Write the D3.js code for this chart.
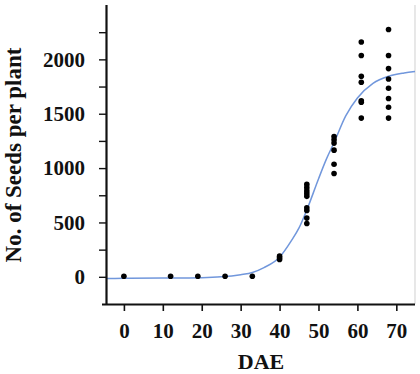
<!DOCTYPE html>
<html><head><meta charset="utf-8">
<script src="https://cdn.jsdelivr.net/npm/d3@7"></script>
<style>body{margin:0;background:#fff;} svg text{font-family:"Liberation Serif","Times New Roman",Times,serif !important;font-weight:bold;fill:#111;}</style>
</head><body><svg id="c" width="420" height="374"></svg>
<script>
const dae = [0, 12, 19, 26, 33, 40, 47, 54, 61, 68];
const seeds = [
  [5],
  [5],
  [5],
  [5],
  [5],
  [160, 175, 190],
  [850, 820, 790, 765, 740, 635, 610, 540, 490],
  [1290, 1260, 1230, 1165, 1035, 950],
  [2160, 2035, 1845, 1790, 1620, 1605, 1460],
  [2275, 2035, 1915, 1820, 1735, 1640, 1560, 1460]
];
const fitX = [-4.6, 0, 10, 20, 25, 30, 33, 36, 40, 43, 45, 47, 50, 52, 54, 57, 60, 64, 68, 72, 74.8];
const fitY = [-15, -14, -12, -8, 0, 20, 40, 85, 180, 330, 450, 615, 900, 1080, 1235, 1480, 1645, 1780, 1845, 1875, 1888];
const xTicks = [0, 10, 20, 30, 40, 50, 60, 70];
const yTicks = [0, 250, 500, 750, 1000, 1250, 1500, 1750, 2000, 2250];
const yLabels = [0, 500, 1000, 1500, 2000];

const FONT = '"Liberation Serif", "Times New Roman", Times, serif';
const svg = d3.select("#c");
const L = 106, R = 415, T = 5, B = 304;
const x = d3.scaleLinear().domain([-4.6, 74.8]).range([L, R]);
const y = d3.scaleLinear().domain([-250, 2500]).range([B, T]);

// right faint border
svg.append("line").attr("x1", R).attr("x2", R).attr("y1", T).attr("y2", B)
  .attr("stroke", "#d8d8d8").attr("stroke-width", 1.2);

// fitted curve
const line = d3.line().x(d => x(d[0])).y(d => y(d[1])).curve(d3.curveMonotoneX);
svg.append("path").datum(fitX.map((v, i) => [v, fitY[i]]))
  .attr("d", line).attr("fill", "none").attr("stroke", "#7197dc").attr("stroke-width", 1.5);

// points
const pts = [];
dae.forEach((d, i) => seeds[i].forEach(s => pts.push([d, s])));
svg.append("g").selectAll("circle").data(pts).join("circle")
  .attr("cx", d => x(d[0])).attr("cy", d => y(d[1])).attr("r", 2.8).attr("fill", "#000");

// axes
const xAxis = d3.axisBottom(x).tickValues(xTicks).tickSize(7).tickSizeOuter(0).tickPadding(12);
const gx = svg.append("g").attr("transform", `translate(0,${B})`).call(xAxis)
  .attr("font-family", FONT).attr("font-size", 21);
gx.select(".domain").attr("d", `M${L - 4},0.5H${R}`).attr("stroke", "#111").attr("stroke-width", 2.2);
gx.selectAll(".tick line").attr("stroke", "#111").attr("stroke-width", 1.6);
gx.selectAll(".tick text").style("font-family", FONT).style("font-size", "21px").style("font-weight", "bold").attr("fill", "#111");

const yAxis = d3.axisLeft(y).tickValues(yTicks).tickSize(7).tickSizeOuter(0).tickPadding(14)
  .tickFormat(d => yLabels.includes(d) ? d : "");
const gy = svg.append("g").attr("transform", `translate(${L},0)`).call(yAxis)
  .attr("font-family", FONT).attr("font-size", 21);
gy.select(".domain").attr("d", `M0.5,${T}V${B + 1}`).attr("stroke", "#111").attr("stroke-width", 2.2);
gy.selectAll(".tick line").attr("stroke", "#111").attr("stroke-width", 1.4);
gy.selectAll(".tick text").style("font-family", FONT).style("font-size", "21px").style("font-weight", "bold").attr("fill", "#111");

// titles
svg.append("text").attr("x", 261).attr("y", 369).attr("text-anchor", "middle")
  .style("font-family", FONT).style("font-size", "22px").text("DAE");
svg.append("text").attr("transform", "translate(21,155) rotate(-90)").attr("text-anchor", "middle")
  .style("font-family", FONT).style("font-size", "23px").text("No. of Seeds per plant");
</script></body></html>
